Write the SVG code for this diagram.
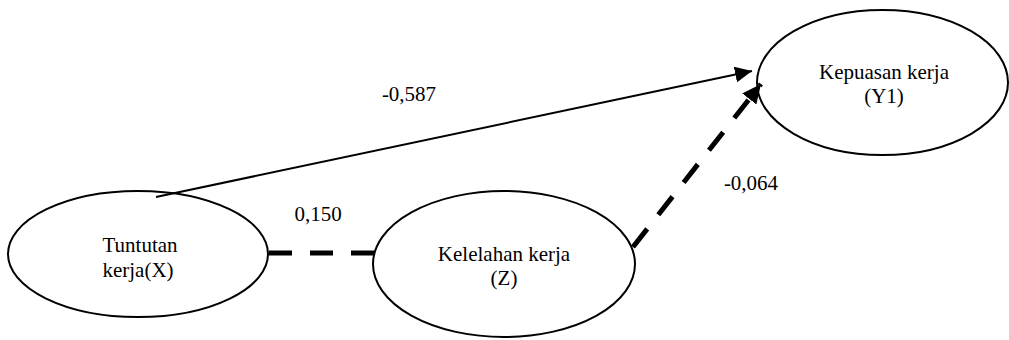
<svg xmlns="http://www.w3.org/2000/svg" width="1009" height="340" viewBox="0 0 1009 340">
  <style>
    .node ellipse { fill: #ffffff; stroke: #000000; stroke-width: 2; }
    .node text, .label { font-family: "Liberation Serif", "Times New Roman", serif; font-size: 21px; fill: #000000; text-anchor: middle; }
    .solid { stroke: #000000; stroke-width: 2; fill: none; }
    .dash { stroke: #000000; stroke-width: 5; fill: none; stroke-dasharray: 23 18; }
  </style>
  <defs>
    <marker id="arrowThin" markerUnits="userSpaceOnUse" markerWidth="18" markerHeight="16" refX="17" refY="8" orient="auto">
      <path d="M0,0 L17,8 L0,16 z" fill="#000000"/>
    </marker>
    <marker id="arrowBold" markerUnits="userSpaceOnUse" markerWidth="20" markerHeight="18" refX="19" refY="9" orient="auto">
      <path d="M0,0 L19,9 L0,18 z" fill="#000000"/>
    </marker>
  </defs>

  <!-- node: Tuntutan kerja (X) -->
  <g id="node-x" class="node">
    <ellipse cx="138" cy="254" rx="130" ry="63"/>
    <text x="140" y="252">Tuntutan</text>
    <text x="138" y="277">kerja(X)</text>
  </g>

  <!-- node: Kelelahan kerja (Z) -->
  <g id="node-z" class="node">
    <ellipse cx="504" cy="264" rx="131" ry="73"/>
    <text x="504" y="261">Kelelahan kerja</text>
    <text x="504" y="285">(Z)</text>
  </g>

  <!-- node: Kepuasan kerja (Y1) -->
  <g id="node-y1" class="node">
    <ellipse cx="882.5" cy="82.5" rx="125.5" ry="72.5"/>
    <text x="884" y="79">Kepuasan kerja</text>
    <text x="884" y="103">(Y1)</text>
  </g>

  <!-- connectors, drawn over the nodes -->
  <g id="connectors">
    <line class="solid" x1="156" y1="197" x2="752" y2="71" marker-end="url(#arrowThin)"/>
    <line class="dash" x1="269" y1="253" x2="375" y2="253"/>
    <line class="dash" x1="633" y1="247" x2="761" y2="84" marker-end="url(#arrowBold)"/>
  </g>

  <!-- path coefficients -->
  <g id="labels">
    <text class="label" x="409" y="101">-0,587</text>
    <text class="label" x="318" y="221">0,150</text>
    <text class="label" x="751" y="190">-0,064</text>
  </g>
</svg>
